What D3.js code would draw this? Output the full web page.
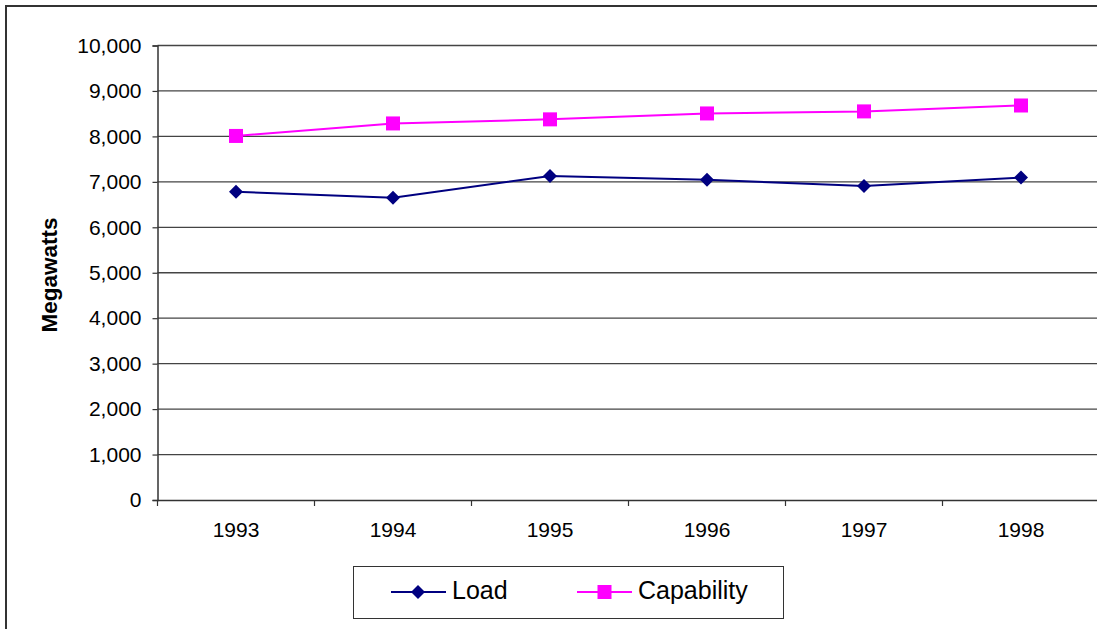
<!DOCTYPE html>
<html><head><meta charset="utf-8">
<script src="https://cdn.jsdelivr.net/npm/d3@7"></script>
<style>body{margin:0;background:#fff}svg{display:block;font-family:Arial,"Liberation Sans",sans-serif}</style>
</head><body><svg id="c" width="1097" height="629"></svg>
<script>
const years = ["1993","1994","1995","1996","1997","1998"];
const loadValues = [6780, 6650, 7130, 7045, 6910, 7095];
const capabilityValues = [8010, 8285, 8375, 8505, 8550, 8680];
const yTicks = [0,1000,2000,3000,4000,5000,6000,7000,8000,9000,10000];
const seriesNames = ["Load","Capability"];

const svg = d3.select("#c");
const x = d3.scaleBand().domain(years).range([157.5, 1099.5]);
const y = d3.scaleLinear().domain([0,10000]).range([500, 45.5]);
const fmt = d3.format(",");

// outer border
svg.append("rect").attr("x",6).attr("y",6).attr("width",1200).attr("height",700)
  .attr("fill","none").attr("stroke","#333").attr("stroke-width",2);

// gridlines
svg.append("g").selectAll("line").data(yTicks.filter(d=>d>0)).join("line")
  .attr("x1",157.5).attr("x2",1099.5).attr("y1",d=>y(d)).attr("y2",d=>y(d))
  .attr("stroke","#444").attr("stroke-width",1.3);

// y axis
const yAxis = svg.append("g").attr("transform","translate(157.5,0)")
  .call(d3.axisLeft(y).tickValues(yTicks).tickFormat(fmt).tickSize(5).tickPadding(11));
yAxis.select(".domain").attr("stroke","#333").attr("stroke-width",1.5);
yAxis.selectAll(".tick line").attr("stroke","#333").attr("stroke-width",1.2);
yAxis.selectAll("text").attr("font-size",21).attr("fill","#000").attr("font-family","Arial, Liberation Sans, sans-serif");

// x axis
const xAxis = svg.append("g").attr("transform","translate(0,500)")
  .call(d3.axisBottom(x).tickSize(0).tickPadding(22));
xAxis.select(".domain").attr("stroke","#333").attr("stroke-width",1.5);
xAxis.selectAll("text").attr("font-size",21).attr("fill","#000").attr("font-family","Arial, Liberation Sans, sans-serif");
// boundary ticks
const bounds = years.map(d=>x(d)).concat([x(years[years.length-1])+x.bandwidth()]);
svg.append("g").selectAll("line").data(bounds).join("line")
  .attr("x1",d=>d).attr("x2",d=>d).attr("y1",500).attr("y2",506)
  .attr("stroke","#333").attr("stroke-width",1.2);

// y title
svg.append("text").attr("transform","translate(57,275) rotate(-90)")
  .attr("text-anchor","middle").attr("font-size",22.5).attr("font-weight","bold").text("Megawatts");

const cx = d => x(d) + x.bandwidth()/2;
const line = d3.line().x((d,i)=>cx(years[i])).y(d=>y(d));
const diamond = (px,py,r) => `M${px},${py-r}L${px+r},${py}L${px},${py+r}L${px-r},${py}Z`;

svg.append("path").datum(capabilityValues).attr("d",line).attr("fill","none").attr("stroke","#FF00FF").attr("stroke-width",2);
svg.append("g").selectAll("rect").data(capabilityValues).join("rect")
  .attr("x",(d,i)=>cx(years[i])-7).attr("y",d=>y(d)-7).attr("width",14).attr("height",14).attr("fill","#FF00FF");

svg.append("path").datum(loadValues).attr("d",line).attr("fill","none").attr("stroke","#000080").attr("stroke-width",2);
svg.append("g").selectAll("path").data(loadValues).join("path")
  .attr("d",(d,i)=>diamond(cx(years[i]),y(d),7)).attr("fill","#000080");

// legend
const lg = svg.append("g");
lg.append("rect").attr("x",353.5).attr("y",566.5).attr("width",430).attr("height",52)
  .attr("fill","#fff").attr("stroke","#333").attr("stroke-width",1);
const ly = 592;
lg.append("line").attr("x1",391).attr("x2",446).attr("y1",ly).attr("y2",ly).attr("stroke","#000080").attr("stroke-width",2);
lg.append("path").attr("d",diamond(418,ly,7)).attr("fill","#000080");
lg.append("text").attr("x",452).attr("y",ly+7).attr("font-size",25).text(seriesNames[0]);
lg.append("line").attr("x1",577).attr("x2",632).attr("y1",ly).attr("y2",ly).attr("stroke","#FF00FF").attr("stroke-width",2);
lg.append("rect").attr("x",597.5).attr("y",ly-7).attr("width",14).attr("height",14).attr("fill","#FF00FF");
lg.append("text").attr("x",638).attr("y",ly+7).attr("font-size",25).text(seriesNames[1]);
</script></body></html>
